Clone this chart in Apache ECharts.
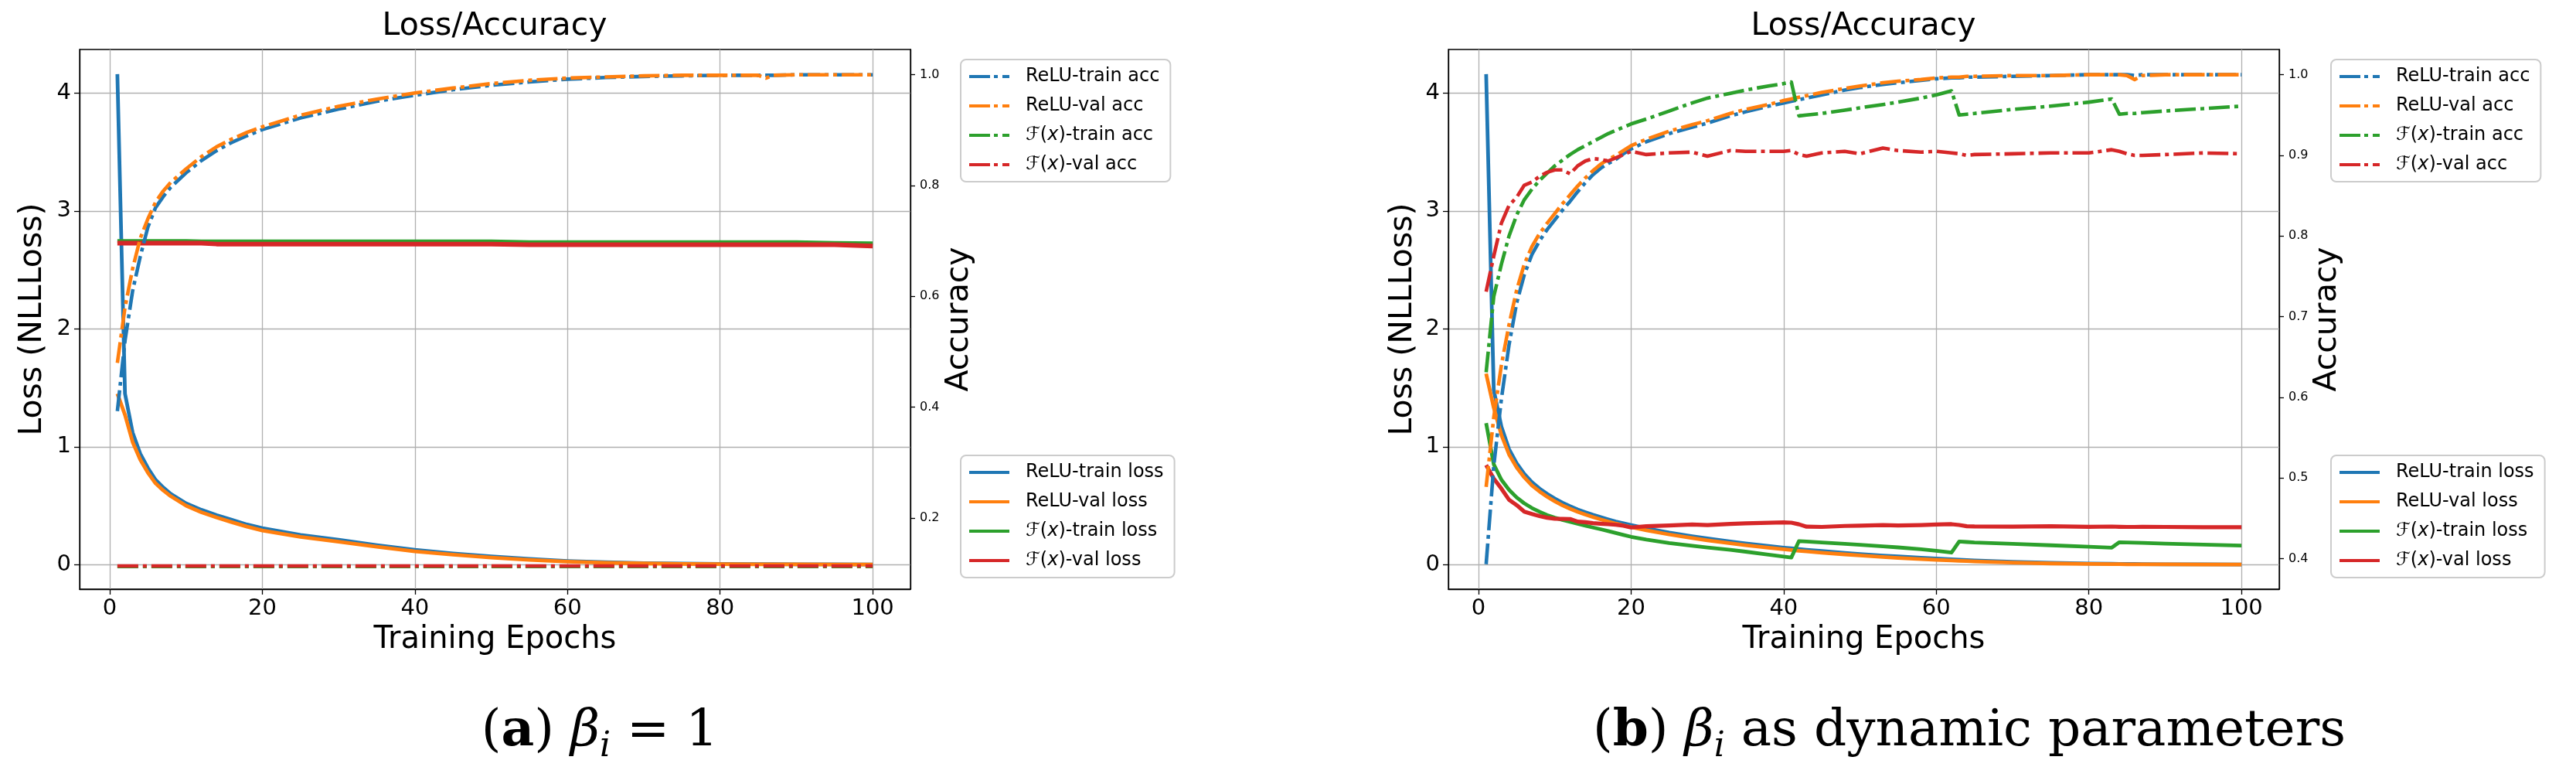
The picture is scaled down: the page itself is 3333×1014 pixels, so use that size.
<!DOCTYPE html>
<html lang="en">
  <head>
    <meta charset="UTF-8" />
    <title>Loss/Accuracy</title>
    <script src="https://cdn.jsdelivr.net/npm/echarts@6/dist/echarts.min.js"></script>
    <style>
      html, body { margin: 0; padding: 0; background: #fff; }
      #chart { width: 3333px; height: 1014px; }
    </style>
  </head>
  <body>
    <div id="chart"></div>

    <script>
      // ---- (a) beta_i = 1 ----
      var epochsA = [1, 2, 3, 4, 5, 6, 7, 8, 10, 12, 14, 16, 18, 20, 25, 30, 35, 40, 45, 50, 55, 60, 65, 70, 75, 80, 85, 86, 87, 90, 95, 100]

      var reluTrainLossA = [4.16, 1.45, 1.12, 0.94, 0.82, 0.72, 0.655, 0.6, 0.52, 0.465, 0.42, 0.38, 0.34, 0.31, 0.252, 0.21, 0.165, 0.125, 0.095, 0.07, 0.048, 0.031, 0.02, 0.013, 0.009, 0.006, 0.004, 0.004, 0.004, 0.003, 0.002, 0.001]
      var reluValLossA = [1.45, 1.27, 1.04, 0.89, 0.78, 0.69, 0.63, 0.58, 0.5, 0.445, 0.4, 0.36, 0.322, 0.29, 0.235, 0.195, 0.152, 0.113, 0.085, 0.06, 0.04, 0.025, 0.016, 0.01, 0.006, 0.004, 0.003, 0.003, 0.003, 0.002, 0.001, 0.001]
      var fTrainLossA = [2.745, 2.745, 2.745, 2.745, 2.745, 2.745, 2.745, 2.745, 2.745, 2.741, 2.741, 2.741, 2.741, 2.741, 2.741, 2.741, 2.741, 2.741, 2.741, 2.741, 2.736, 2.736, 2.736, 2.736, 2.736, 2.736, 2.736, 2.736, 2.736, 2.736, 2.729, 2.725]
      var fValLossA = [2.726, 2.726, 2.726, 2.726, 2.726, 2.726, 2.726, 2.726, 2.726, 2.726, 2.719, 2.719, 2.719, 2.719, 2.719, 2.719, 2.719, 2.719, 2.719, 2.719, 2.713, 2.713, 2.713, 2.713, 2.713, 2.713, 2.713, 2.713, 2.713, 2.713, 2.713, 2.702]

      var reluTrainAccA = [0.393, 0.52, 0.61, 0.672, 0.725, 0.76, 0.78, 0.797, 0.823, 0.845, 0.863, 0.878, 0.89, 0.901, 0.922, 0.938, 0.952, 0.963, 0.973, 0.981, 0.987, 0.992, 0.995, 0.997, 0.998, 0.999, 0.999, 0.999, 0.999, 1.0, 1.0, 1.0]
      var reluValAccA = [0.48, 0.58, 0.65, 0.705, 0.74, 0.77, 0.79, 0.806, 0.83, 0.852, 0.87, 0.884, 0.896, 0.906, 0.927, 0.943, 0.956, 0.967, 0.976, 0.984, 0.99, 0.994, 0.996, 0.998, 0.999, 0.999, 0.999, 0.994, 0.999, 1.0, 1.0, 1.0]
      var fTrainAccA = [0.1124, 0.1124, 0.1124, 0.1124, 0.1124, 0.1124, 0.1124, 0.1124, 0.1124, 0.1124, 0.1124, 0.1124, 0.1124, 0.1124, 0.1124, 0.1124, 0.1124, 0.1124, 0.1124, 0.1124, 0.1124, 0.1124, 0.1124, 0.1124, 0.1124, 0.1124, 0.1124, 0.1124, 0.1124, 0.1124, 0.1124, 0.1124]
      var fValAccA = [0.1135, 0.1135, 0.1135, 0.1135, 0.1135, 0.1135, 0.1135, 0.1135, 0.1135, 0.1135, 0.1135, 0.1135, 0.1135, 0.1135, 0.1135, 0.1135, 0.1135, 0.1135, 0.1135, 0.1135, 0.1135, 0.1135, 0.1135, 0.1135, 0.1135, 0.1135, 0.1135, 0.1135, 0.1135, 0.1135, 0.1135, 0.1135]

      // ---- (b) beta_i as dynamic parameters ----
      var epochsB = [1, 2, 3, 4, 5, 6, 7, 8, 9, 10, 11, 12, 13, 14, 15, 16, 17, 18, 19, 20,
        22, 25, 28, 30, 33, 35, 38, 40,
        41, 42, 43, 45, 48, 50,
        53, 55, 58, 60, 62, 63, 64, 65,
        70, 75, 80, 83, 84, 85, 86, 87,
        90, 95, 100]

      var reluTrainLossB = [4.16, 1.48, 1.17, 0.98, 0.86, 0.77, 0.7, 0.645, 0.6, 0.56, 0.525, 0.495, 0.468, 0.445, 0.423, 0.403, 0.384, 0.366, 0.35, 0.335,
        0.308, 0.272, 0.241, 0.222, 0.196, 0.18, 0.158, 0.144,
        0.138, 0.132, 0.126, 0.115, 0.1, 0.09,
        0.077, 0.069, 0.058, 0.051, 0.045, 0.042, 0.039, 0.036,
        0.024, 0.015, 0.009, 0.007, 0.006, 0.005, 0.005, 0.004,
        0.003, 0.002, 0.001]
      var reluValLossB = [1.62, 1.33, 1.1, 0.935, 0.825, 0.74, 0.672, 0.62, 0.576, 0.537, 0.503, 0.474, 0.448, 0.425, 0.404, 0.384, 0.366, 0.348, 0.333, 0.318,
        0.291, 0.256, 0.225, 0.206, 0.181, 0.165, 0.143, 0.13,
        0.124, 0.118, 0.112, 0.101, 0.087, 0.078,
        0.065, 0.057, 0.047, 0.041, 0.035, 0.032, 0.03, 0.027,
        0.017, 0.01, 0.006, 0.004, 0.004, 0.003, 0.003, 0.003,
        0.002, 0.001, 0.001]
      var fTrainLossB = [1.2, 0.85, 0.72, 0.635, 0.57, 0.52, 0.48, 0.448, 0.42, 0.398, 0.38, 0.363, 0.347, 0.331, 0.315, 0.3, 0.285, 0.268, 0.252, 0.236,
        0.212, 0.183, 0.16, 0.146, 0.125, 0.11, 0.085, 0.068,
        0.06, 0.2, 0.196, 0.188, 0.176, 0.168,
        0.155, 0.146, 0.13, 0.118, 0.102, 0.196, 0.192, 0.188,
        0.176, 0.164, 0.152, 0.144, 0.19, 0.188, 0.186, 0.184,
        0.178, 0.17, 0.162]
      var fValLossB = [0.845, 0.73, 0.645, 0.55, 0.505, 0.45, 0.43, 0.412, 0.398, 0.39, 0.388, 0.387, 0.365, 0.36, 0.352, 0.347, 0.343, 0.338, 0.33, 0.315,
        0.326, 0.332, 0.34, 0.335, 0.345, 0.35, 0.355, 0.358,
        0.356, 0.342, 0.322, 0.32, 0.328, 0.33,
        0.335, 0.332, 0.336, 0.34, 0.343, 0.336, 0.326, 0.324,
        0.322, 0.326, 0.321, 0.323, 0.321, 0.32, 0.32, 0.321,
        0.32, 0.318, 0.318]

      var reluTrainAccB = [0.393, 0.515, 0.598, 0.665, 0.717, 0.752, 0.777, 0.794, 0.808, 0.82, 0.832, 0.843, 0.855, 0.866, 0.876, 0.884, 0.89, 0.895, 0.902, 0.908,
        0.917, 0.927, 0.935, 0.94, 0.949, 0.954, 0.961, 0.965,
        0.967, 0.969, 0.971, 0.975, 0.981, 0.984,
        0.988, 0.99, 0.993, 0.995, 0.996, 0.996, 0.997, 0.997,
        0.998, 0.999, 1.0, 1.0, 1.0, 1.0, 0.999, 1.0,
        1.0, 1.0, 1.0]
      var reluValAccB = [0.489, 0.575, 0.64, 0.69, 0.733, 0.765, 0.787, 0.803, 0.816, 0.828, 0.84, 0.851, 0.862, 0.872, 0.881, 0.889, 0.895, 0.9, 0.906, 0.912,
        0.92, 0.93, 0.938, 0.943, 0.952, 0.957, 0.963, 0.968,
        0.97, 0.972, 0.974, 0.978, 0.983, 0.986,
        0.99, 0.992, 0.994, 0.996, 0.997, 0.997, 0.998, 0.998,
        0.999, 0.999, 1.0, 1.0, 1.0, 0.999, 0.994, 0.999,
        1.0, 1.0, 1.0]
      var fTrainAccB = [0.631, 0.725, 0.765, 0.8, 0.826, 0.845, 0.858, 0.869, 0.878, 0.887, 0.894, 0.901, 0.907, 0.912, 0.917, 0.922, 0.927, 0.931, 0.935, 0.939,
        0.945, 0.955, 0.965, 0.971, 0.977, 0.981, 0.986, 0.989,
        0.991, 0.949, 0.95, 0.952, 0.956, 0.959,
        0.963, 0.966, 0.971, 0.975, 0.98, 0.95, 0.951, 0.952,
        0.957, 0.961, 0.966, 0.97, 0.951, 0.952, 0.952, 0.953,
        0.955, 0.958, 0.961]
      var fValAccB = [0.731, 0.775, 0.816, 0.838, 0.848, 0.863, 0.867, 0.874, 0.879, 0.882, 0.882, 0.877, 0.887, 0.893, 0.896, 0.895, 0.893, 0.897, 0.901, 0.905,
        0.901, 0.903, 0.904, 0.899, 0.906, 0.905, 0.905, 0.905,
        0.906, 0.901, 0.899, 0.903, 0.905, 0.902,
        0.909, 0.906, 0.904, 0.905, 0.903, 0.902, 0.9, 0.901,
        0.902, 0.903, 0.903, 0.907, 0.905, 0.902, 0.9, 0.9,
        0.901, 0.903, 0.902]

      // ticks
      var epochTicks = [0, 20, 40, 60, 80, 100]
      var lossTicks = [0, 1, 2, 3, 4]
      var accTicksA = [0.2, 0.4, 0.6, 0.8, 1.0]
      var accTicksB = [0.4, 0.5, 0.6, 0.7, 0.8, 0.9, 1.0]

      var accNames = ["ReLU-train acc", "ReLU-val acc", "F(x)-train acc", "F(x)-val acc"]
      var lossNames = ["ReLU-train loss", "ReLU-val loss", "F(x)-train loss", "F(x)-val loss"]

      var FONT = "DejaVu Sans"
      var BLUE = "#1f77b4", ORANGE = "#ff7f0e", GREEN = "#2ca02c", RED = "#d62728"
      var DASHDOT = [27, 6, 5, 6]
      // legend samples: dash, gap, dot, gap, short dash (52 x 4)
      var ICON_DASHDOT = "path://M0 0H27V4H0Z M32 0H37V4H32Z M43 0H52V4H43Z"
      var ICON_SOLID = "path://M0 0H52V4H0Z"

      function pairs(xs, ys) {
        return xs.map(function (x, i) { return [x, ys[i]] })
      }

      function line(name, xs, ys, color, dash, width, gi, yi) {
        return {
          type: "line", name: name,
          xAxisIndex: gi, yAxisIndex: yi,
          data: pairs(xs, ys),
          symbol: "none", showSymbol: false, silent: true,
          lineStyle: { color: color, width: width, type: dash, cap: "butt", join: "round" },
          itemStyle: { color: color },
        }
      }

      function xAxisFor(gi) {
        return {
          type: "value", gridIndex: gi, min: -3.95, max: 104.95,
          name: "Training Epochs", nameLocation: "middle", nameGap: 46,
          nameTextStyle: { fontSize: 40, color: "#000", fontFamily: FONT },
          axisLine: { onZero: false, lineStyle: { color: "#000", width: 1.3 } },
          axisTick: { length: 7, customValues: epochTicks, lineStyle: { color: "#000", width: 1.3 } },
          axisLabel: { customValues: epochTicks, fontSize: 29, color: "#000", fontFamily: FONT, margin: 11 },
          splitLine: { show: true, lineStyle: { color: "#b0b0b0", width: 1.3 } },
        }
      }

      function lossAxisFor(gi, gap) {
        return {
          type: "value", gridIndex: gi, position: "left", min: -0.208, max: 4.369,
          name: "Loss (NLLLoss)", nameLocation: "middle", nameGap: gap, nameRotate: 90,
          nameTextStyle: { fontSize: 41, color: "#000", fontFamily: FONT },
          axisLine: { show: true, onZero: false, lineStyle: { color: "#000", width: 1.3 } },
          axisTick: { show: true, length: 7, customValues: lossTicks, lineStyle: { color: "#000", width: 1.3 } },
          axisLabel: { customValues: lossTicks, fontSize: 29, color: "#000", fontFamily: FONT, margin: 11 },
          splitLine: { show: true, lineStyle: { color: "#b0b0b0", width: 1.3 } },
        }
      }

      function accAxisFor(gi, min, max, ticks, gap) {
        return {
          type: "value", gridIndex: gi, position: "right", min: min, max: max,
          name: "Accuracy", nameLocation: "middle", nameGap: gap, nameRotate: 90,
          nameTextStyle: { fontSize: 41, color: "#000", fontFamily: FONT },
          axisLine: { show: true, onZero: false, lineStyle: { color: "#000", width: 1.3 } },
          axisTick: { show: true, length: 6, customValues: ticks, lineStyle: { color: "#000", width: 1.3 } },
          axisLabel: {
            customValues: ticks, fontSize: 16, color: "#000", fontFamily: FONT, margin: 12,
            formatter: function (v) { return v.toFixed(1) },
          },
          splitLine: { show: false },
        }
      }

      // F(x) -> script F with italic x
      function legendText(n) {
        if (n.indexOf("F(x)") === 0) return "{cal|\u2131}({it|x})" + n.slice(4)
        return n
      }

      function legendFor(names, left, top, icon) {
        return {
          orient: "vertical", left: left, top: top, data: names,
          icon: icon, itemWidth: 52, itemHeight: 4, itemGap: 14,
          padding: [10, 14, 10, 11],
          backgroundColor: "rgba(255,255,255,0.8)",
          borderColor: "#cccccc", borderWidth: 2, borderRadius: 7,
          selectedMode: false,
          formatter: legendText,
          textStyle: {
            fontSize: 24, lineHeight: 24, color: "#000", fontFamily: FONT, padding: [0, 0, 0, 16],
            rich: {
              cal: { fontSize: 24, fontFamily: FONT, fontStyle: "italic", color: "#000" },
              it: { fontSize: 24, fontFamily: FONT, fontStyle: "italic", color: "#000" },
            },
          },
        }
      }

      var titleStyle = { fontSize: 41, fontWeight: "normal", color: "#000", fontFamily: FONT }

      var capRich = {
        r: { fontFamily: "DejaVu Serif", fontSize: 66, fill: "#000", lineHeight: 84 },
        bb: { fontFamily: "DejaVu Serif", fontSize: 66, fontWeight: "bold", fill: "#000", lineHeight: 84 },
        g: { fontFamily: "DejaVu Serif", fontSize: 66, fontStyle: "italic", fill: "#000", lineHeight: 84 },
        s: { fontFamily: "DejaVu Serif", fontSize: 44, fontStyle: "italic", fill: "#000", lineHeight: 40, verticalAlign: "bottom" },
      }

      var mCharts = echarts.init(document.getElementById("chart"))

      var option = {
        animation: false,
        backgroundColor: "#fff",
        title: [
          { text: "Loss/Accuracy", left: 640, top: 14, textAlign: "center", padding: 0, textStyle: titleStyle },
          { text: "Loss/Accuracy", left: 2411, top: 14, textAlign: "center", padding: 0, textStyle: titleStyle },
        ],
        grid: [
          { left: 103, top: 64, width: 1075, height: 698, show: true, borderColor: "#000", borderWidth: 1.3, backgroundColor: "transparent" },
          { left: 1874, top: 64, width: 1075, height: 698, show: true, borderColor: "#000", borderWidth: 1.3, backgroundColor: "transparent" },
        ],
        xAxis: [xAxisFor(0), xAxisFor(1)],
        yAxis: [
          lossAxisFor(0, 40),
          accAxisFor(0, 0.0716, 1.0456, accTicksA, 43),
          lossAxisFor(1, 38),
          accAxisFor(1, 0.3621, 1.0313, accTicksB, 41),
        ],
        legend: [
          legendFor(accNames, 1243, 77, ICON_DASHDOT),
          legendFor(lossNames, 1243, 589, ICON_SOLID),
          legendFor(accNames, 3016, 77, ICON_DASHDOT),
          legendFor(lossNames, 3016, 589, ICON_SOLID),
        ],
        series: [
          // (a) loss
          line("ReLU-train loss", epochsA, reluTrainLossA, BLUE, "solid", 4.8, 0, 0),
          line("ReLU-val loss", epochsA, reluValLossA, ORANGE, "solid", 4.8, 0, 0),
          line("F(x)-train loss", epochsA, fTrainLossA, GREEN, "solid", 4.8, 0, 0),
          line("F(x)-val loss", epochsA, fValLossA, RED, "solid", 6, 0, 0),
          // (a) accuracy
          line("ReLU-train acc", epochsA, reluTrainAccA, BLUE, DASHDOT, 4.6, 0, 1),
          line("ReLU-val acc", epochsA, reluValAccA, ORANGE, DASHDOT, 4.6, 0, 1),
          line("F(x)-train acc", epochsA, fTrainAccA, GREEN, DASHDOT, 4.6, 0, 1),
          line("F(x)-val acc", epochsA, fValAccA, RED, DASHDOT, 4.6, 0, 1),
          // (b) loss
          line("ReLU-train loss", epochsB, reluTrainLossB, BLUE, "solid", 4.8, 1, 2),
          line("ReLU-val loss", epochsB, reluValLossB, ORANGE, "solid", 4.8, 1, 2),
          line("F(x)-train loss", epochsB, fTrainLossB, GREEN, "solid", 4.8, 1, 2),
          line("F(x)-val loss", epochsB, fValLossB, RED, "solid", 5.2, 1, 2),
          // (b) accuracy
          line("ReLU-train acc", epochsB, reluTrainAccB, BLUE, DASHDOT, 4.6, 1, 3),
          line("ReLU-val acc", epochsB, reluValAccB, ORANGE, DASHDOT, 4.6, 1, 3),
          line("F(x)-train acc", epochsB, fTrainAccB, GREEN, DASHDOT, 4.6, 1, 3),
          line("F(x)-val acc", epochsB, fValAccB, RED, DASHDOT, 4.6, 1, 3),
        ],
        graphic: [
          {
            type: "text", x: 776, y: 947,
            style: { text: "{r|(}{bb|a}{r|) }{g|\u03b2}{s|i}{r| = 1}", rich: capRich, align: "center", verticalAlign: "middle" },
          },
          {
            type: "text", x: 2548, y: 947,
            style: { text: "{r|(}{bb|b}{r|) }{g|\u03b2}{s|i}{r| as dynamic parameters}", rich: capRich, align: "center", verticalAlign: "middle" },
          },
        ],
      }
      mCharts.setOption(option)
    </script>
  </body>
</html>
